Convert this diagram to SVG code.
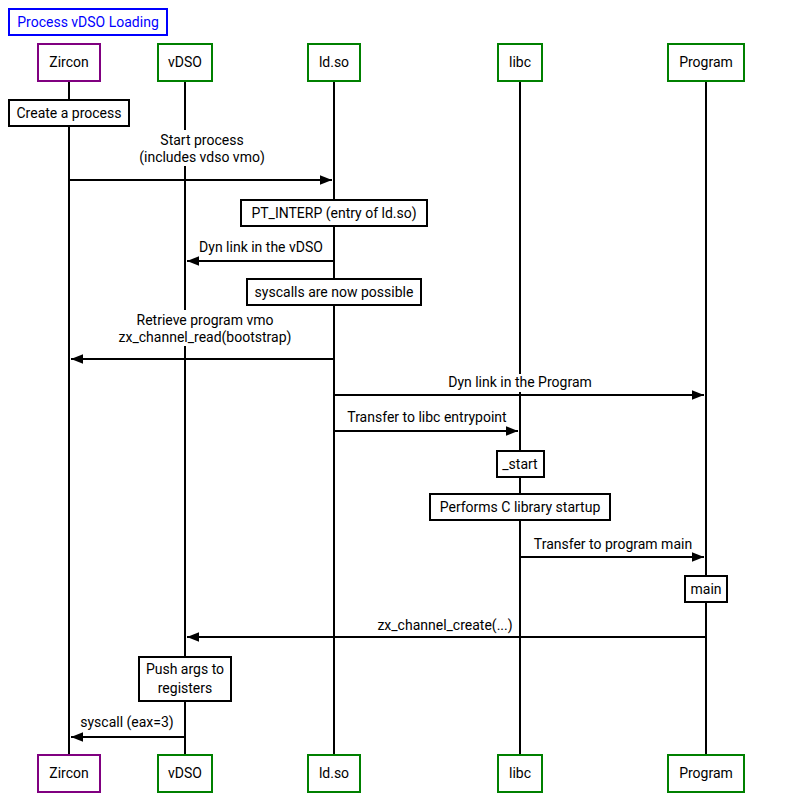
<svg xmlns="http://www.w3.org/2000/svg" width="800" height="809" viewBox="0 0 800 809">
<defs>
<style>
text{font-family:Roboto,"Liberation Sans",sans-serif;font-size:14px;fill:#000;text-anchor:middle}
.p{fill:#fff;stroke:#800080;stroke-width:2}
.g{fill:#fff;stroke:#008000;stroke-width:2}
.n{fill:#fff;stroke:#000;stroke-width:2}
.l{stroke:#000;stroke-width:2}
.bg{fill:#fff}
</style>
<marker id="a" viewBox="0 0 10 10" refX="10" refY="5" markerWidth="6" markerHeight="6" orient="auto"><path d="M0,1L10,5L0,9z" fill="#000"/></marker>
</defs>
<rect width="800" height="809" fill="#fff"/>
<g id="title"><rect x="9" y="9" width="158" height="26" fill="#fff" stroke="#0000ff" stroke-width="2"/><text x="88" y="27" style="fill:#0000ff">Process vDSO Loading</text></g>
<g id="lifelines">
<line class="l" x1="69" y1="81" x2="69" y2="755"/>
<line class="l" x1="185" y1="81" x2="185" y2="755"/>
<line class="l" x1="334" y1="81" x2="334" y2="755"/>
<line class="l" x1="520" y1="81" x2="520" y2="755"/>
<line class="l" x1="706" y1="81" x2="706" y2="755"/>
</g>
<g id="connectors">
<rect class="bg" x="130" y="130" width="144" height="36"/>
<text x="202" y="145">Start process</text><text x="202" y="162">(includes vdso vmo)</text>
<line class="l" x1="69" y1="180" x2="332" y2="180" marker-end="url(#a)"/>
<rect class="bg" x="192" y="238" width="138" height="18"/>
<text x="261" y="252">Dyn link in the vDSO</text>
<line class="l" x1="334" y1="261" x2="187" y2="261" marker-end="url(#a)"/>
<rect class="bg" x="106" y="310" width="204" height="36"/>
<text x="205" y="325">Retrieve program vmo</text><text x="205" y="342">zx_channel_read(bootstrap)</text>
<line class="l" x1="334" y1="359" x2="71" y2="359" marker-end="url(#a)"/>
<rect class="bg" x="440" y="374" width="160" height="18"/>
<text x="520" y="387">Dyn link in the Program</text>
<line class="l" x1="334" y1="395" x2="704" y2="395" marker-end="url(#a)"/>
<text x="427" y="422">Transfer to libc entrypoint</text>
<line class="l" x1="334" y1="431" x2="518" y2="431" marker-end="url(#a)"/>
<text x="613" y="549">Transfer to program main</text>
<line class="l" x1="520" y1="557" x2="704" y2="557" marker-end="url(#a)"/>
<rect class="bg" x="372" y="617" width="144" height="18"/>
<text x="445" y="630">zx_channel_create(...)</text>
<line class="l" x1="706" y1="637" x2="187" y2="637" marker-end="url(#a)"/>
<text x="127" y="727">syscall (eax=3)</text>
<line class="l" x1="185" y1="737" x2="71" y2="737" marker-end="url(#a)"/>
</g>
<g id="create"><rect class="n" x="9" y="100" width="120" height="26"/><text x="69" y="118">Create a process</text></g>
<g id="ptinterp"><rect class="n" x="241" y="200" width="186" height="26"/><text x="334" y="218">PT_INTERP (entry of ld.so)</text></g>
<g id="syscalls"><rect class="n" x="247" y="279" width="174" height="26"/><text x="334" y="297">syscalls are now possible</text></g>
<g id="start"><rect class="n" x="497" y="451" width="47" height="26"/><text x="520" y="469">_start</text></g>
<g id="cstartup"><rect class="n" x="430" y="494" width="180" height="26"/><text x="520" y="512">Performs C library startup</text></g>
<g id="main"><rect class="n" x="685" y="576" width="42" height="26"/><text x="706" y="594">main</text></g>
<g id="pushargs"><rect class="n" x="139" y="657" width="92" height="44"/><text x="185" y="674">Push args to</text><text x="185" y="693">registers</text></g>
<g id="zircon-top"><rect class="p" x="38" y="44" width="62" height="37"/><text x="69" y="67">Zircon</text></g>
<g id="vdso-top"><rect class="g" x="158" y="44" width="54" height="37"/><text x="185" y="67">vDSO</text></g>
<g id="ldso-top"><rect class="g" x="308" y="44" width="52" height="37"/><text x="334" y="67">ld.so</text></g>
<g id="libc-top"><rect class="g" x="498" y="44" width="44" height="37"/><text x="520" y="67">libc</text></g>
<g id="program-top"><rect class="g" x="668" y="44" width="76" height="37"/><text x="706" y="67">Program</text></g>
<g id="zircon-bottom"><rect class="p" x="38" y="755" width="62" height="37"/><text x="69" y="778">Zircon</text></g>
<g id="vdso-bottom"><rect class="g" x="158" y="755" width="54" height="37"/><text x="185" y="778">vDSO</text></g>
<g id="ldso-bottom"><rect class="g" x="308" y="755" width="52" height="37"/><text x="334" y="778">ld.so</text></g>
<g id="libc-bottom"><rect class="g" x="498" y="755" width="44" height="37"/><text x="520" y="778">libc</text></g>
<g id="program-bottom"><rect class="g" x="668" y="755" width="76" height="37"/><text x="706" y="778">Program</text></g>
</svg>
